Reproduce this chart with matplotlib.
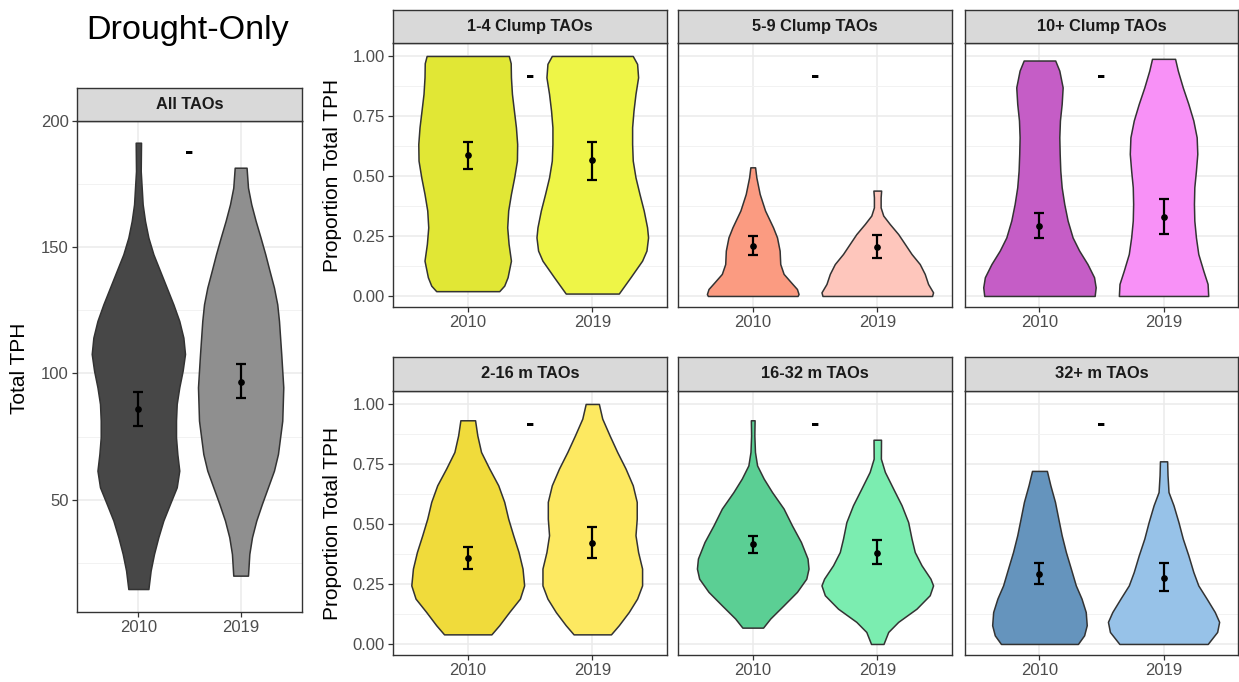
import matplotlib
matplotlib.use("Agg")
import matplotlib.pyplot as plt

plt.rcParams["font.family"] = ["Liberation Sans", "DejaVu Sans"]

W, H = 1239, 682
YEARS = ["2010", "2019"]

# ---- violin outlines: (y, half-width) read top to bottom ----
all_2010_y = [191.4, 180.2, 167.0, 160.4, 153.8, 147.2, 140.6, 134.0, 127.4, 120.8, 114.2, 107.7, 101.1,
              94.5, 87.9, 81.3, 74.7, 68.1, 61.5, 54.9, 48.3, 41.7, 35.1, 28.5, 21.9, 14.6]
all_2010_w = [0.026, 0.023, 0.042, 0.065, 0.098, 0.147, 0.212, 0.277, 0.342, 0.40, 0.44, 0.456, 0.433,
              0.40, 0.375, 0.368, 0.368, 0.381, 0.40, 0.375, 0.309, 0.244, 0.195, 0.153, 0.12, 0.098]
all_2019_y = [181.5, 173.6, 167.0, 160.4, 153.8, 147.2, 140.6, 134.0, 127.4, 120.8, 107.7, 94.5, 81.3,
              68.1, 61.5, 54.9, 48.3, 41.7, 35.1, 28.5, 19.9]
all_2019_w = [0.058, 0.072, 0.104, 0.147, 0.195, 0.241, 0.283, 0.326, 0.358, 0.375, 0.397, 0.417, 0.407,
              0.365, 0.326, 0.267, 0.208, 0.153, 0.111, 0.085, 0.072]

c14_2010_y = [1.0, 0.97, 0.911, 0.842, 0.772, 0.703, 0.633, 0.564, 0.494, 0.425, 0.356, 0.286, 0.217,
              0.147, 0.078, 0.043, 0.02]
c14_2010_w = [0.33, 0.345, 0.347, 0.355, 0.371, 0.387, 0.397, 0.395, 0.373, 0.347, 0.325, 0.317, 0.328,
              0.347, 0.32, 0.293, 0.253]
c14_2019_y = [1.0, 0.967, 0.911, 0.842, 0.772, 0.703, 0.633, 0.564, 0.494, 0.425, 0.356, 0.286, 0.244,
              0.189, 0.147, 0.078, 0.01]
c14_2019_w = [0.325, 0.36, 0.368, 0.347, 0.331, 0.32, 0.32, 0.325, 0.347, 0.379, 0.413, 0.44, 0.448,
              0.435, 0.40, 0.307, 0.213]

c59_2010_y = [0.536, 0.494, 0.425, 0.356, 0.286, 0.244, 0.189, 0.133, 0.092, 0.057, 0.029, 0.008, 0.0]
c59_2010_w = [0.019, 0.029, 0.056, 0.099, 0.163, 0.195, 0.216, 0.221, 0.248, 0.307, 0.355, 0.368, 0.36]
c59_2019_y = [0.439, 0.411, 0.369, 0.335, 0.30, 0.258, 0.217, 0.175, 0.133, 0.092, 0.05, 0.015, 0.0]
c59_2019_w = [0.031, 0.027, 0.027, 0.048, 0.10, 0.168, 0.221, 0.275, 0.341, 0.381, 0.408, 0.448, 0.44]

c10_2010_y = [0.981, 0.939, 0.869, 0.80, 0.731, 0.661, 0.592, 0.522, 0.453, 0.383, 0.314, 0.244, 0.189,
              0.133, 0.078, 0.036, 0.0]
c10_2010_w = [0.127, 0.16, 0.187, 0.179, 0.165, 0.16, 0.163, 0.168, 0.179, 0.20, 0.227, 0.267, 0.32,
              0.387, 0.44, 0.453, 0.445]
c10_2019_y = [0.988, 0.939, 0.869, 0.80, 0.731, 0.661, 0.592, 0.522, 0.453, 0.383, 0.314, 0.244, 0.175,
              0.106, 0.05, 0.0]
c10_2019_w = [0.093, 0.115, 0.155, 0.20, 0.24, 0.267, 0.272, 0.261, 0.248, 0.245, 0.248, 0.261, 0.28,
              0.32, 0.355, 0.36]

m216_2010_y = [0.932, 0.869, 0.80, 0.731, 0.661, 0.592, 0.522, 0.453, 0.383, 0.314, 0.244, 0.189, 0.133,
               0.078, 0.04]
m216_2010_w = [0.059, 0.077, 0.107, 0.173, 0.245, 0.293, 0.325, 0.365, 0.408, 0.44, 0.453, 0.419, 0.333,
               0.253, 0.19]
m216_2019_y = [1.0, 0.939, 0.869, 0.80, 0.731, 0.661, 0.592, 0.522, 0.453, 0.383, 0.314, 0.244, 0.189,
               0.133, 0.078, 0.04]
m216_2019_w = [0.053, 0.08, 0.139, 0.20, 0.267, 0.325, 0.357, 0.357, 0.347, 0.368, 0.40, 0.40, 0.36,
               0.293, 0.213, 0.15]

m1632_2010_y = [0.932, 0.869, 0.80, 0.744, 0.689, 0.633, 0.564, 0.494, 0.425, 0.356, 0.314, 0.272,
                0.217, 0.161, 0.106, 0.068]
m1632_2010_w = [0.015, 0.013, 0.018, 0.035, 0.088, 0.155, 0.248, 0.315, 0.387, 0.44, 0.448, 0.43,
                0.355, 0.248, 0.141, 0.083]
m1632_2019_y = [0.851, 0.772, 0.717, 0.647, 0.578, 0.508, 0.439, 0.383, 0.328, 0.272, 0.244, 0.203,
                0.147, 0.092, 0.05, 0.0]
m1632_2019_w = [0.03, 0.029, 0.061, 0.128, 0.195, 0.248, 0.275, 0.301, 0.355, 0.427, 0.448, 0.421,
                0.315, 0.168, 0.088, 0.05]

m32_2010_y = [0.721, 0.661, 0.592, 0.522, 0.453, 0.383, 0.314, 0.244, 0.189, 0.133, 0.078, 0.036, 0.0]
m32_2010_w = [0.06, 0.088, 0.125, 0.152, 0.179, 0.213, 0.253, 0.293, 0.339, 0.373, 0.381, 0.36, 0.31]
m32_2019_y = [0.761, 0.703, 0.633, 0.578, 0.508, 0.439, 0.369, 0.30, 0.244, 0.189, 0.133, 0.092, 0.05, 0.0]
m32_2019_w = [0.029, 0.032, 0.04, 0.08, 0.12, 0.155, 0.20, 0.24, 0.28, 0.347, 0.413, 0.448, 0.432, 0.356]

# ---- mean and error bar limits per panel (2010, 2019) ----
all_mean, all_lo, all_hi = [85.9, 96.8], [79.3, 90.1], [92.7, 103.6]
c14_mean, c14_lo, c14_hi = [0.589, 0.567], [0.529, 0.485], [0.643, 0.643]
c59_mean, c59_lo, c59_hi = [0.208, 0.203], [0.169, 0.158], [0.249, 0.253]
c10_mean, c10_lo, c10_hi = [0.292, 0.328], [0.242, 0.258], [0.344, 0.404]
m216_mean, m216_lo, m216_hi = [0.358, 0.422], [0.314, 0.36], [0.403, 0.489]
m1632_mean, m1632_lo, m1632_hi = [0.415, 0.381], [0.378, 0.332], [0.45, 0.432]
m32_mean, m32_lo, m32_hi = [0.293, 0.276], [0.249, 0.221], [0.339, 0.338]

SIG_LABEL = "-"
all_sig_y = 187.7
prop_sig_y = 0.918

PANEL_TITLES = ["1-4 Clump TAOs", "5-9 Clump TAOs", "10+ Clump TAOs",
                "2-16 m TAOs", "16-32 m TAOs", "32+ m TAOs"]
FILLS = [("#e1e735", "#eef547"), ("#fb9b81", "#fec6bc"), ("#c55dc6", "#f891f7"),
         ("#f0db3b", "#fde961"), ("#5bcf94", "#7bedb0"), ("#6594bd", "#97c2e8")]

EDGE = "#333333"


def px_axes(fig, x0, y0, x1, y1):
    return fig.add_axes([x0 / W, 1 - y1 / H, (x1 - x0) / W, (y1 - y0) / H])


def strip(fig, x0, y0, x1, y1, label):
    s = px_axes(fig, x0, y0, x1, y1)
    s.set_facecolor("#d9d9d9")
    s.set_xticks([])
    s.set_yticks([])
    for sp in s.spines.values():
        sp.set_color(EDGE)
        sp.set_linewidth(1.0)
    s.text(0.5, 0.5, label, ha="center", va="center", fontsize=11.8,
           fontweight="bold", color="#1a1a1a", transform=s.transAxes)


def style_panel(ax, ylim, major, minor, show_y):
    ax.set_xlim(0.4, 2.6)
    ax.set_ylim(*ylim)
    ax.set_xticks([1, 2])
    ax.set_xticklabels(YEARS)
    ax.set_yticks(major)
    ax.set_yticks(minor, minor=True)
    ax.grid(True, which="major", color="#ebebeb", lw=1.1)
    ax.grid(True, which="minor", axis="y", color="#f2f2f2", lw=0.7)
    ax.set_axisbelow(True)
    ax.tick_params(axis="both", which="major", length=3.5, width=0.9, color=EDGE,
                   labelcolor="#4d4d4d", labelsize=12, pad=2.5)
    ax.tick_params(axis="y", which="minor", length=0)
    if not show_y:
        ax.tick_params(axis="y", which="major", length=0, labelleft=False)
    for sp in ax.spines.values():
        sp.set_color(EDGE)
        sp.set_linewidth(1.0)


def violins(ax, profiles, colors, mean, lo, hi, sig_y):
    for i, ((ys, ws), col) in enumerate(zip(profiles, colors)):
        x = i + 1
        ax.fill_betweenx(ys, [x - w for w in ws], [x + w for w in ws],
                         facecolor=col, edgecolor=EDGE, lw=1.1, zorder=2)
    xs = [1, 2]
    ax.errorbar(xs, mean, yerr=[[m - l for m, l in zip(mean, lo)], [h - m for m, h in zip(mean, hi)]],
                fmt="o", ms=3.8, color="black", ecolor="black", elinewidth=1.6,
                capsize=3.8, capthick=1.6, zorder=3)
    ax.text(1.5, sig_y, SIG_LABEL, ha="center", va="center", fontsize=18,
            fontweight="bold", color="black", zorder=4)


def main():
    fig = plt.figure(figsize=(W / 100, H / 100), dpi=100)

    fig.text(188 / W, 1 - 30 / H, "Drought-Only", ha="center", va="center", fontsize=24.6)

    # left: all TAOs, absolute TPH
    ax = px_axes(fig, 77, 121, 302, 612)
    style_panel(ax, (5.5, 200.0), [50, 100, 150, 200], [25, 75, 125, 175], True)
    violins(ax, [(all_2010_y, all_2010_w), (all_2019_y, all_2019_w)], ("#474747", "#8f8f8f"),
            all_mean, all_lo, all_hi, all_sig_y)
    strip(fig, 77, 88, 302, 121, "All TAOs")
    fig.text(20 / W, 1 - 368 / H, "Total TPH", rotation=90, ha="center", va="center", fontsize=15)

    # right: proportional TPH by class
    profiles = [
        [(c14_2010_y, c14_2010_w), (c14_2019_y, c14_2019_w)],
        [(c59_2010_y, c59_2010_w), (c59_2019_y, c59_2019_w)],
        [(c10_2010_y, c10_2010_w), (c10_2019_y, c10_2019_w)],
        [(m216_2010_y, m216_2010_w), (m216_2019_y, m216_2019_w)],
        [(m1632_2010_y, m1632_2010_w), (m1632_2019_y, m1632_2019_w)],
        [(m32_2010_y, m32_2010_w), (m32_2019_y, m32_2019_w)],
    ]
    stats = [(c14_mean, c14_lo, c14_hi), (c59_mean, c59_lo, c59_hi), (c10_mean, c10_lo, c10_hi),
             (m216_mean, m216_lo, m216_hi), (m1632_mean, m1632_lo, m1632_hi), (m32_mean, m32_lo, m32_hi)]

    cols_px = [(393, 667), (678, 952), (965, 1238)]
    rows_px = [(10, 43, 307), (357, 391, 655)]
    for k, title in enumerate(PANEL_TITLES):
        r, c = divmod(k, 3)
        x0, x1 = cols_px[c]
        st, y0, y1 = rows_px[r]
        ax = px_axes(fig, x0, y0, x1, y1)
        style_panel(ax, (-0.046, 1.054), [0, 0.25, 0.5, 0.75, 1.0],
                    [0.125, 0.375, 0.625, 0.875], c == 0)
        if c == 0:
            ax.set_yticklabels(["0.00", "0.25", "0.50", "0.75", "1.00"])
        m, lo, hi = stats[k]
        violins(ax, profiles[k], FILLS[k], m, lo, hi, prop_sig_y)
        strip(fig, x0, st, x1, y0, title)
        if c == 0:
            fig.text(333 / W, 1 - (y0 + y1) / 2 / H, "Proportion Total TPH", rotation=90,
                     ha="center", va="center", fontsize=15)

    fig.savefig("out.png", dpi=100)
    plt.close(fig)


if __name__ == "__main__":
    main()
